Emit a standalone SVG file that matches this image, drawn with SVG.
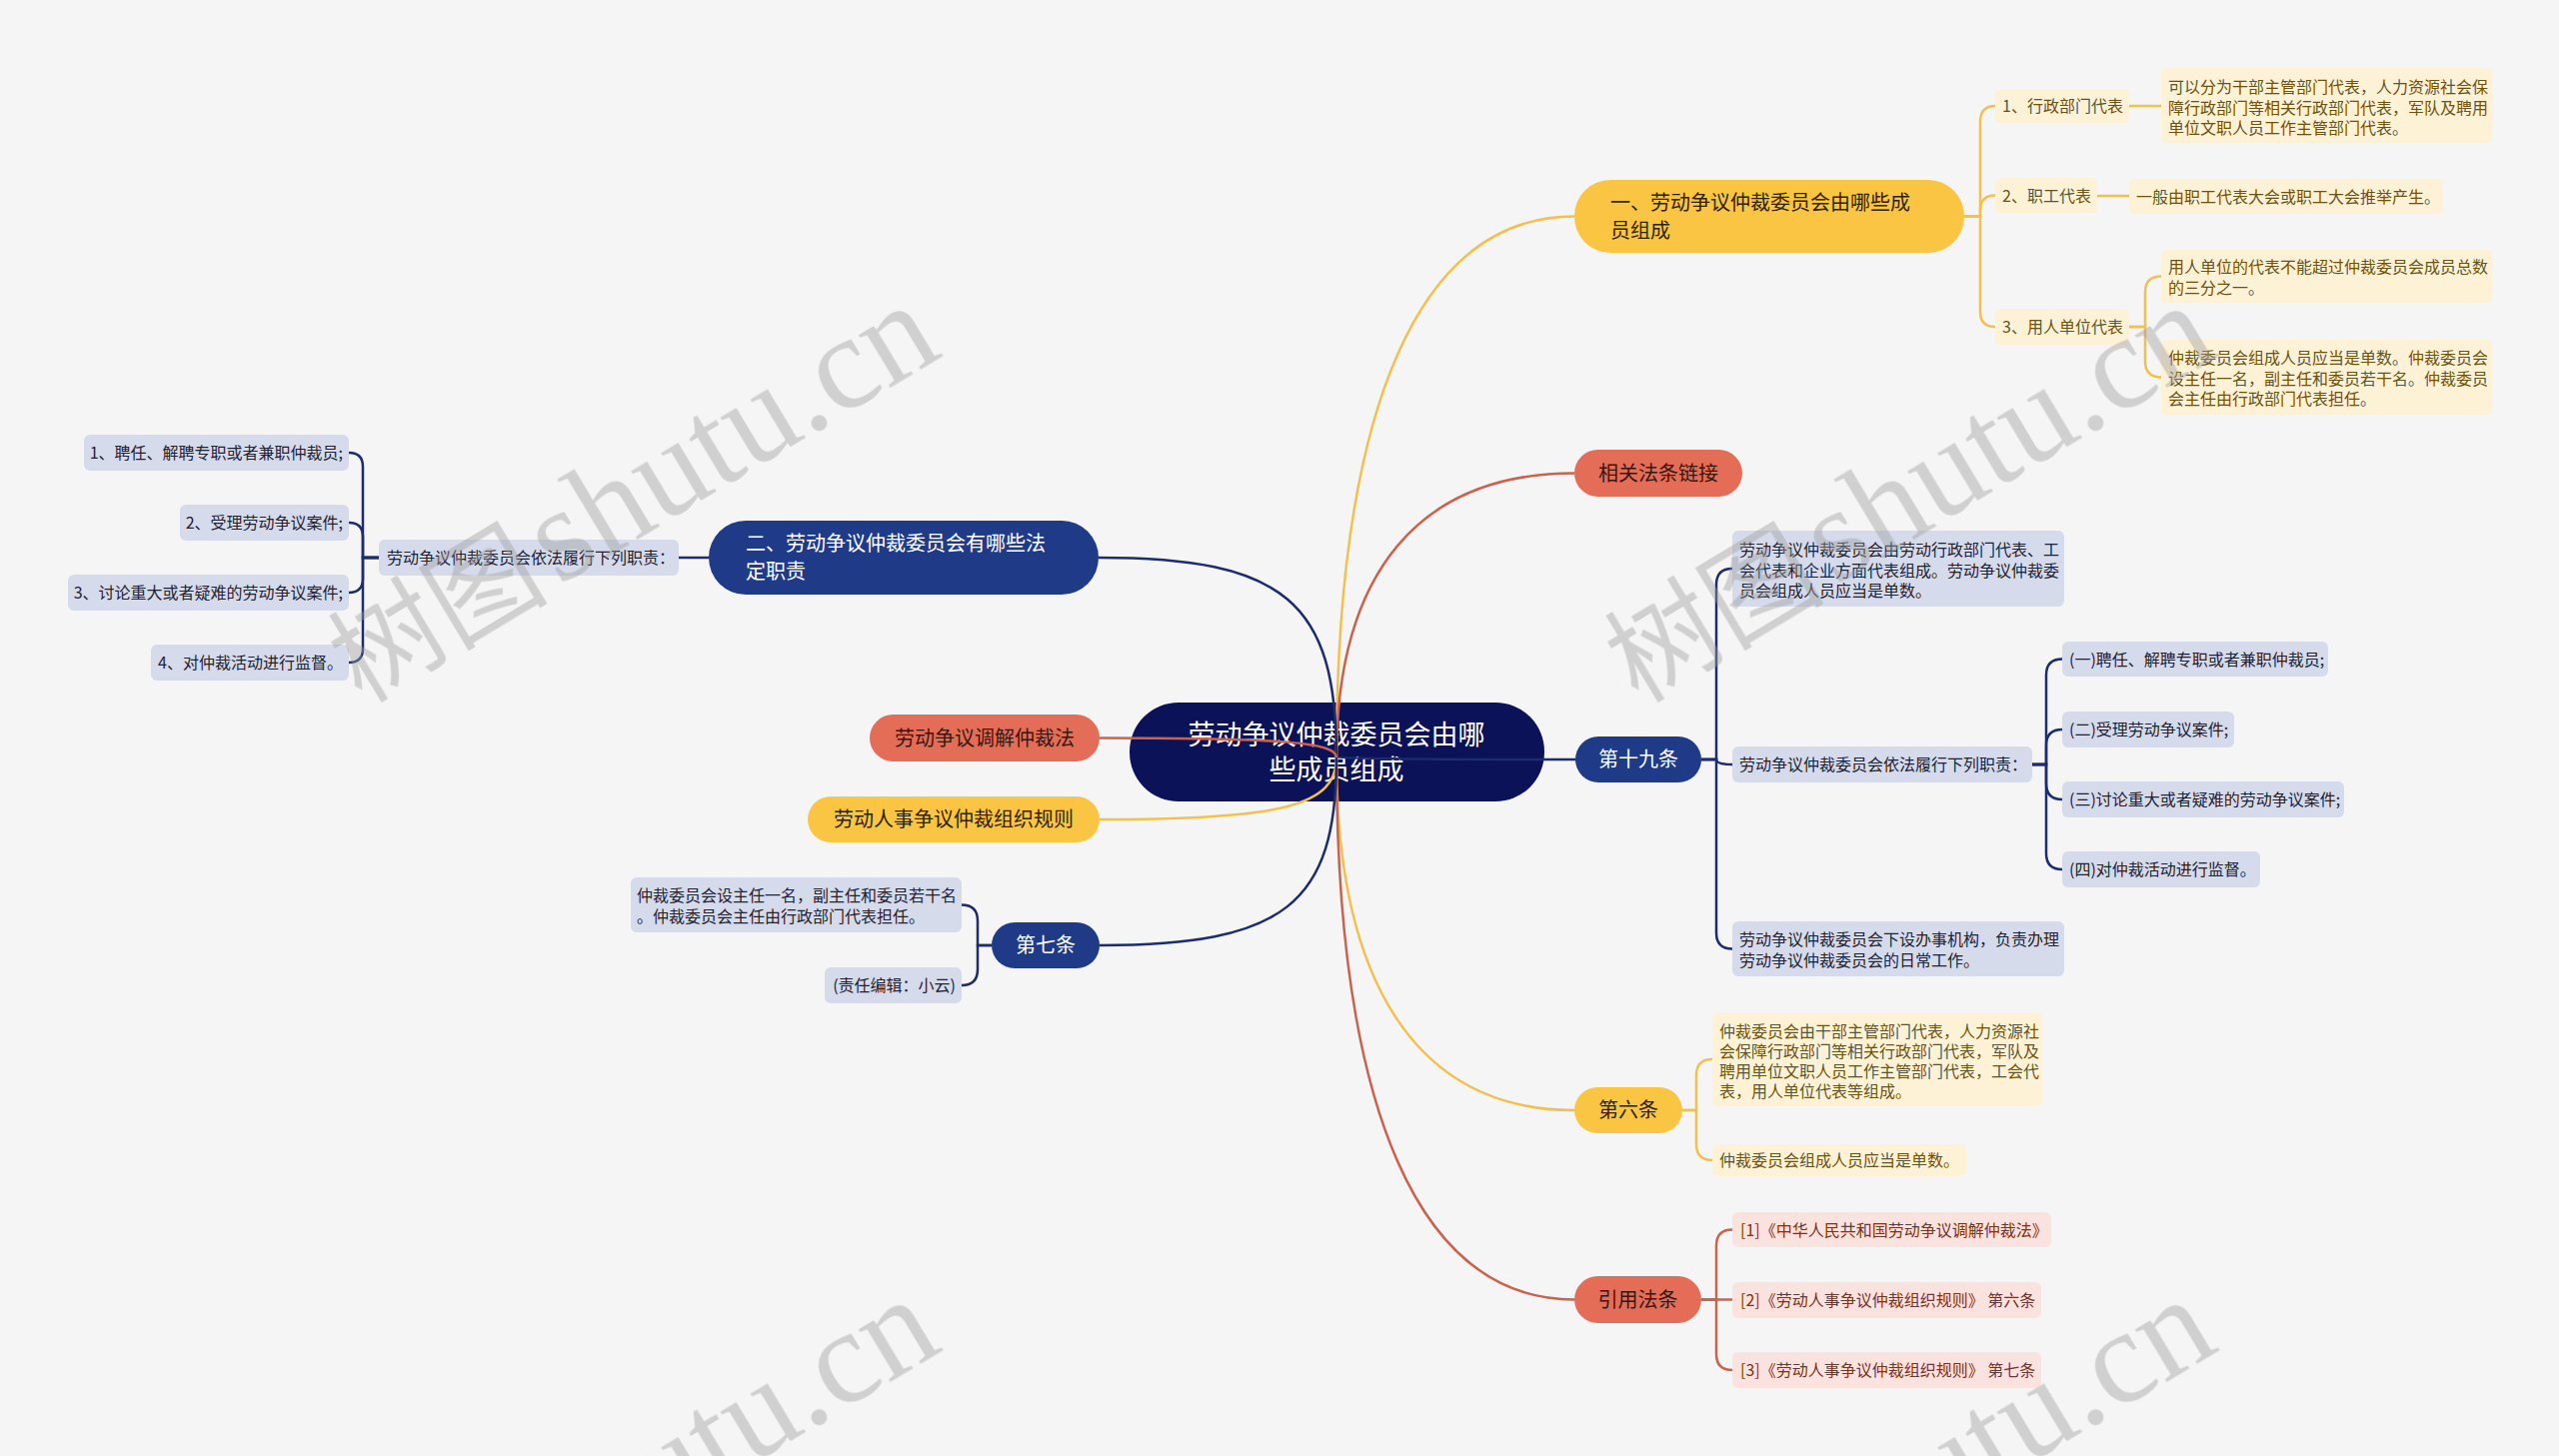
<svg xmlns="http://www.w3.org/2000/svg" width="2560" height="1457" viewBox="0 0 2560 1457">
<style>
text{font-family:"Noto Sans CJK SC","Noto Sans",sans-serif}
.t16{font-size:16px}
.t20{font-size:20px}
.t27{font-size:27px}
.cn{fill:#0b1258}
.by{fill:#fac542}.ty{fill:#2f2306}
.br{fill:#e36d56}.tr{fill:#3a1610}
.bb{fill:#1f3b87}.tw{fill:#ffffff}
.lb{fill:#d5dbeb}.tlb{fill:#1f2233}
.ly{fill:#fdf2d6}.tly{fill:#6b5212}
.lp{fill:#fae3de}.tlp{fill:#7a3022}
.mid{text-anchor:middle}.end{text-anchor:end}
.cy{stroke:#f3c04f}.cr{stroke:#c9634e}.cb{stroke:#1c2c6c}
#connectors path{fill:none;stroke-width:2.5}
.wm{fill:#9e9e9e;opacity:0.42}
.wl{font-family:"Liberation Serif",serif}
</style>
<rect width="2560" height="1457" fill="#f5f5f5"/>

<g id="center">
<rect class="cn" x="1130" y="703" width="415" height="99" rx="49"/>
<text class="t27 tw mid" x="1337" y="745">劳动争议仲裁委员会由哪</text>
<text class="t27 tw mid" x="1337" y="780">些成员组成</text>
</g>

<g id="connectors">
<path class="cy" d="M1337 758 C1337 406 1420 216.5 1575 216.5"/>
<path class="cr" d="M1337 758 C1337 573 1420 473.5 1575 473.5"/>
<path class="cb" d="M1337 758 C1337 759 1445 760 1576 760"/>
<path class="cy" d="M1337 758 C1337 987 1420 1111 1575 1111"/>
<path class="cr" d="M1337 758 C1337 1111 1420 1300.5 1575 1300.5"/>
<path class="cb" d="M1337 758 C1337 602 1285 558 1099 558"/>
<path class="cr" d="M1337 758 C1337 743 1285 738.5 1100 738.5"/>
<path class="cy" d="M1337 758 C1337 806 1285 820 1100 820"/>
<path class="cb" d="M1337 758 C1337 905 1285 946 1100 946"/>

<path class="cy" d="M1965 216.5 H1981 V122 Q1981 106 1996 106"/>
<path class="cy" d="M1965 216.5 H1981 V210.5 Q1981 195.5 1996 195.5"/>
<path class="cy" d="M1965 216.5 H1981 V312 Q1981 327 1996 327"/>
<path class="cy" d="M2130 106 H2162"/>
<path class="cy" d="M2098 196 H2130"/>
<path class="cy" d="M2130 327 H2146 V292.5 Q2146 276.5 2162 276.5"/>
<path class="cy" d="M2130 327 H2146 V361.5 Q2146 377.5 2162 377.5"/>

<path class="cb" d="M1702 760 H1717 V585 Q1717 569 1733 569"/>
<path class="cb" d="M1702 760 H1717 Q1717 765 1733 765"/>
<path class="cb" d="M1702 760 H1717 V933.5 Q1717 949.5 1733 949.5"/>
<path class="cb" d="M2033 765 H2047 V675.5 Q2047 659.5 2063 659.5"/>
<path class="cb" d="M2033 765 H2047 V746 Q2047 730 2063 730"/>
<path class="cb" d="M2033 765 H2047 V784 Q2047 800 2063 800"/>
<path class="cb" d="M2033 765 H2047 V854 Q2047 870 2063 870"/>

<path class="cy" d="M1683 1111 H1697 V1076 Q1697 1060 1713 1060"/>
<path class="cy" d="M1683 1111 H1697 V1145 Q1697 1161 1713 1161"/>

<path class="cr" d="M1702 1300.5 H1717 V1246.5 Q1717 1230.5 1733 1230.5"/>
<path class="cr" d="M1702 1300.5 H1733"/>
<path class="cr" d="M1702 1300.5 H1717 V1355 Q1717 1371 1733 1371"/>

<path class="cb" d="M709 558 H679"/>
<path class="cb" d="M379 558 H363 V467 Q363 453 349 453"/>
<path class="cb" d="M379 558 H363 V537 Q363 523 349 523"/>
<path class="cb" d="M379 558 H363 V579 Q363 593 349 593"/>
<path class="cb" d="M379 558 H363 V649 Q363 663 349 663"/>

<path class="cb" d="M992 946 H978 V921.5 Q978 905.5 962 905.5"/>
<path class="cb" d="M992 946 H978 V970 Q978 986 962 986"/>
</g>

<g id="n-yi">
<rect class="by" x="1575" y="180" width="390" height="73" rx="36"/>
<text class="t20 ty" x="1611" y="209.5">一、劳动争议仲裁委员会由哪些成</text>
<text class="t20 ty" x="1611" y="237.5">员组成</text>
</g>
<g id="n-yi-1">
<rect class="ly" x="1996" y="89" width="134" height="34" rx="5"/>
<text class="t16 tly" x="2003" y="112">1、行政部门代表</text>
</g>
<g id="n-yi-2">
<rect class="ly" x="1996" y="178" width="102" height="35" rx="5"/>
<text class="t16 tly" x="2003" y="201.5">2、职工代表</text>
</g>
<g id="n-yi-3">
<rect class="ly" x="1996" y="309" width="134" height="36" rx="5"/>
<text class="t16 tly" x="2003" y="333">3、用人单位代表</text>
</g>
<g id="n-yi-1-a">
<rect class="ly" x="2162" y="68" width="331" height="75" rx="5"/>
<text class="t16 tly" x="2169" y="93">可以分为干部主管部门代表，人力资源社会保</text>
<text class="t16 tly" x="2169" y="113.5">障行政部门等相关行政部门代表，军队及聘用</text>
<text class="t16 tly" x="2169" y="134">单位文职人员工作主管部门代表。</text>
</g>
<g id="n-yi-2-a">
<rect class="ly" x="2130" y="179" width="314" height="35" rx="5"/>
<text class="t16 tly" x="2137" y="202.5">一般由职工代表大会或职工大会推举产生。</text>
</g>
<g id="n-yi-3-a">
<rect class="ly" x="2162" y="250" width="331" height="53" rx="5"/>
<text class="t16 tly" x="2169" y="273">用人单位的代表不能超过仲裁委员会成员总数</text>
<text class="t16 tly" x="2169" y="294">的三分之一。</text>
</g>
<g id="n-yi-3-b">
<rect class="ly" x="2162" y="340" width="331" height="75" rx="5"/>
<text class="t16 tly" x="2169" y="364">仲裁委员会组成人员应当是单数。仲裁委员会</text>
<text class="t16 tly" x="2169" y="384.5">设主任一名，副主任和委员若干名。仲裁委员</text>
<text class="t16 tly" x="2169" y="405">会主任由行政部门代表担任。</text>
</g>

<g id="n-link">
<rect class="br" x="1575" y="450" width="168" height="47" rx="23.5"/>
<text class="t20 tr mid" x="1659" y="481">相关法条链接</text>
</g>

<g id="n-19">
<rect class="bb" x="1576" y="737" width="126" height="46" rx="23"/>
<text class="t20 tw mid" x="1639" y="767">第十九条</text>
</g>
<g id="n-19-a">
<rect class="lb" x="1733" y="531" width="332" height="76" rx="6"/>
<text class="t16 tlb" x="1740" y="556">劳动争议仲裁委员会由劳动行政部门代表、工</text>
<text class="t16 tlb" x="1740" y="576.5">会代表和企业方面代表组成。劳动争议仲裁委</text>
<text class="t16 tlb" x="1740" y="597">员会组成人员应当是单数。</text>
</g>
<g id="n-19-b">
<rect class="lb" x="1733" y="747" width="300" height="36" rx="6"/>
<text class="t16 tlb" x="1740" y="771">劳动争议仲裁委员会依法履行下列职责：</text>
</g>
<g id="n-19-b1">
<rect class="lb" x="2063" y="642" width="266" height="35" rx="6"/>
<text class="t16 tlb" x="2070" y="665.5">(一)聘任、解聘专职或者兼职仲裁员;</text>
</g>
<g id="n-19-b2">
<rect class="lb" x="2063" y="712" width="172" height="36" rx="6"/>
<text class="t16 tlb" x="2070" y="736">(二)受理劳动争议案件;</text>
</g>
<g id="n-19-b3">
<rect class="lb" x="2063" y="782" width="282" height="36" rx="6"/>
<text class="t16 tlb" x="2070" y="806">(三)讨论重大或者疑难的劳动争议案件;</text>
</g>
<g id="n-19-b4">
<rect class="lb" x="2063" y="852" width="198" height="36" rx="6"/>
<text class="t16 tlb" x="2070" y="876">(四)对仲裁活动进行监督。</text>
</g>
<g id="n-19-c">
<rect class="lb" x="1733" y="922" width="332" height="55" rx="6"/>
<text class="t16 tlb" x="1740" y="946">劳动争议仲裁委员会下设办事机构，负责办理</text>
<text class="t16 tlb" x="1740" y="966.5">劳动争议仲裁委员会的日常工作。</text>
</g>

<g id="n-6">
<rect class="by" x="1575" y="1088" width="108" height="46" rx="23"/>
<text class="t20 ty mid" x="1629" y="1118">第六条</text>
</g>
<g id="n-6-a">
<rect class="ly" x="1713" y="1013" width="330" height="94" rx="6"/>
<text class="t16 tly" x="1720" y="1038">仲裁委员会由干部主管部门代表，人力资源社</text>
<text class="t16 tly" x="1720" y="1058">会保障行政部门等相关行政部门代表，军队及</text>
<text class="t16 tly" x="1720" y="1078">聘用单位文职人员工作主管部门代表，工会代</text>
<text class="t16 tly" x="1720" y="1098">表，用人单位代表等组成。</text>
</g>
<g id="n-6-b">
<rect class="ly" x="1713" y="1145" width="254" height="32" rx="6"/>
<text class="t16 tly" x="1720" y="1167">仲裁委员会组成人员应当是单数。</text>
</g>

<g id="n-ref">
<rect class="br" x="1575" y="1277" width="127" height="47" rx="23.5"/>
<text class="t20 tr mid" x="1638.5" y="1307.5">引用法条</text>
</g>
<g id="n-ref-1">
<rect class="lp" x="1733" y="1213" width="319" height="35" rx="6"/>
<text class="t16 tlp" x="1741" y="1236.5">[1]《中华人民共和国劳动争议调解仲裁法》</text>
</g>
<g id="n-ref-2">
<rect class="lp" x="1733" y="1283" width="309" height="36" rx="6"/>
<text class="t16 tlp" x="1741" y="1307">[2]《劳动人事争议仲裁组织规则》 第六条</text>
</g>
<g id="n-ref-3">
<rect class="lp" x="1733" y="1353" width="309" height="36" rx="6"/>
<text class="t16 tlp" x="1741" y="1377">[3]《劳动人事争议仲裁组织规则》 第七条</text>
</g>

<g id="n-er">
<rect class="bb" x="709" y="521" width="390" height="74" rx="37"/>
<text class="t20 tw" x="746" y="551">二、劳动争议仲裁委员会有哪些法</text>
<text class="t20 tw" x="746" y="579">定职责</text>
</g>
<g id="n-er-a">
<rect class="lb" x="379" y="540" width="300" height="36" rx="6"/>
<text class="t16 tlb" x="387" y="564">劳动争议仲裁委员会依法履行下列职责：</text>
</g>
<g id="n-er-a1">
<rect class="lb" x="84" y="435" width="265" height="36" rx="6"/>
<text class="t16 tlb end" x="343" y="459">1、聘任、解聘专职或者兼职仲裁员;</text>
</g>
<g id="n-er-a2">
<rect class="lb" x="180" y="505" width="169" height="36" rx="6"/>
<text class="t16 tlb end" x="343" y="529">2、受理劳动争议案件;</text>
</g>
<g id="n-er-a3">
<rect class="lb" x="68" y="575" width="281" height="36" rx="6"/>
<text class="t16 tlb end" x="343" y="599">3、讨论重大或者疑难的劳动争议案件;</text>
</g>
<g id="n-er-a4">
<rect class="lb" x="151" y="645" width="198" height="36" rx="6"/>
<text class="t16 tlb end" x="343" y="669">4、对仲裁活动进行监督。</text>
</g>

<g id="n-law">
<rect class="br" x="870" y="715" width="230" height="47" rx="23.5"/>
<text class="t20 tr mid" x="985" y="745.5">劳动争议调解仲裁法</text>
</g>
<g id="n-rule">
<rect class="by" x="808" y="797" width="292" height="46" rx="23"/>
<text class="t20 ty mid" x="954" y="827">劳动人事争议仲裁组织规则</text>
</g>

<g id="n-7">
<rect class="bb" x="992" y="923" width="108" height="46" rx="23"/>
<text class="t20 tw mid" x="1046" y="953">第七条</text>
</g>
<g id="n-7-a">
<rect class="lb" x="631" y="878" width="331" height="55" rx="6"/>
<text class="t16 tlb" x="637" y="902">仲裁委员会设主任一名，副主任和委员若干名</text>
<text class="t16 tlb" x="637" y="922.5">。仲裁委员会主任由行政部门代表担任。</text>
</g>
<g id="n-7-b">
<rect class="lb" x="825" y="968" width="137" height="36" rx="6"/>
<text class="t16 tlb end" x="956" y="992">(责任编辑：小云)</text>
</g>

<g id="watermark" class="wm">
<text transform="translate(362 705) rotate(-31)"><tspan font-size="110">树图</tspan><tspan class="wl" dx="10" font-size="134">shutu.cn</tspan></text>
<text transform="translate(1639 705) rotate(-31)"><tspan font-size="110">树图</tspan><tspan class="wl" dx="10" font-size="134">shutu.cn</tspan></text>
<text transform="translate(362 1700) rotate(-31)"><tspan font-size="110">树图</tspan><tspan class="wl" dx="10" font-size="134">shutu.cn</tspan></text>
<text transform="translate(1639 1700) rotate(-31)"><tspan font-size="110">树图</tspan><tspan class="wl" dx="10" font-size="134">shutu.cn</tspan></text>
</g>
</svg>
